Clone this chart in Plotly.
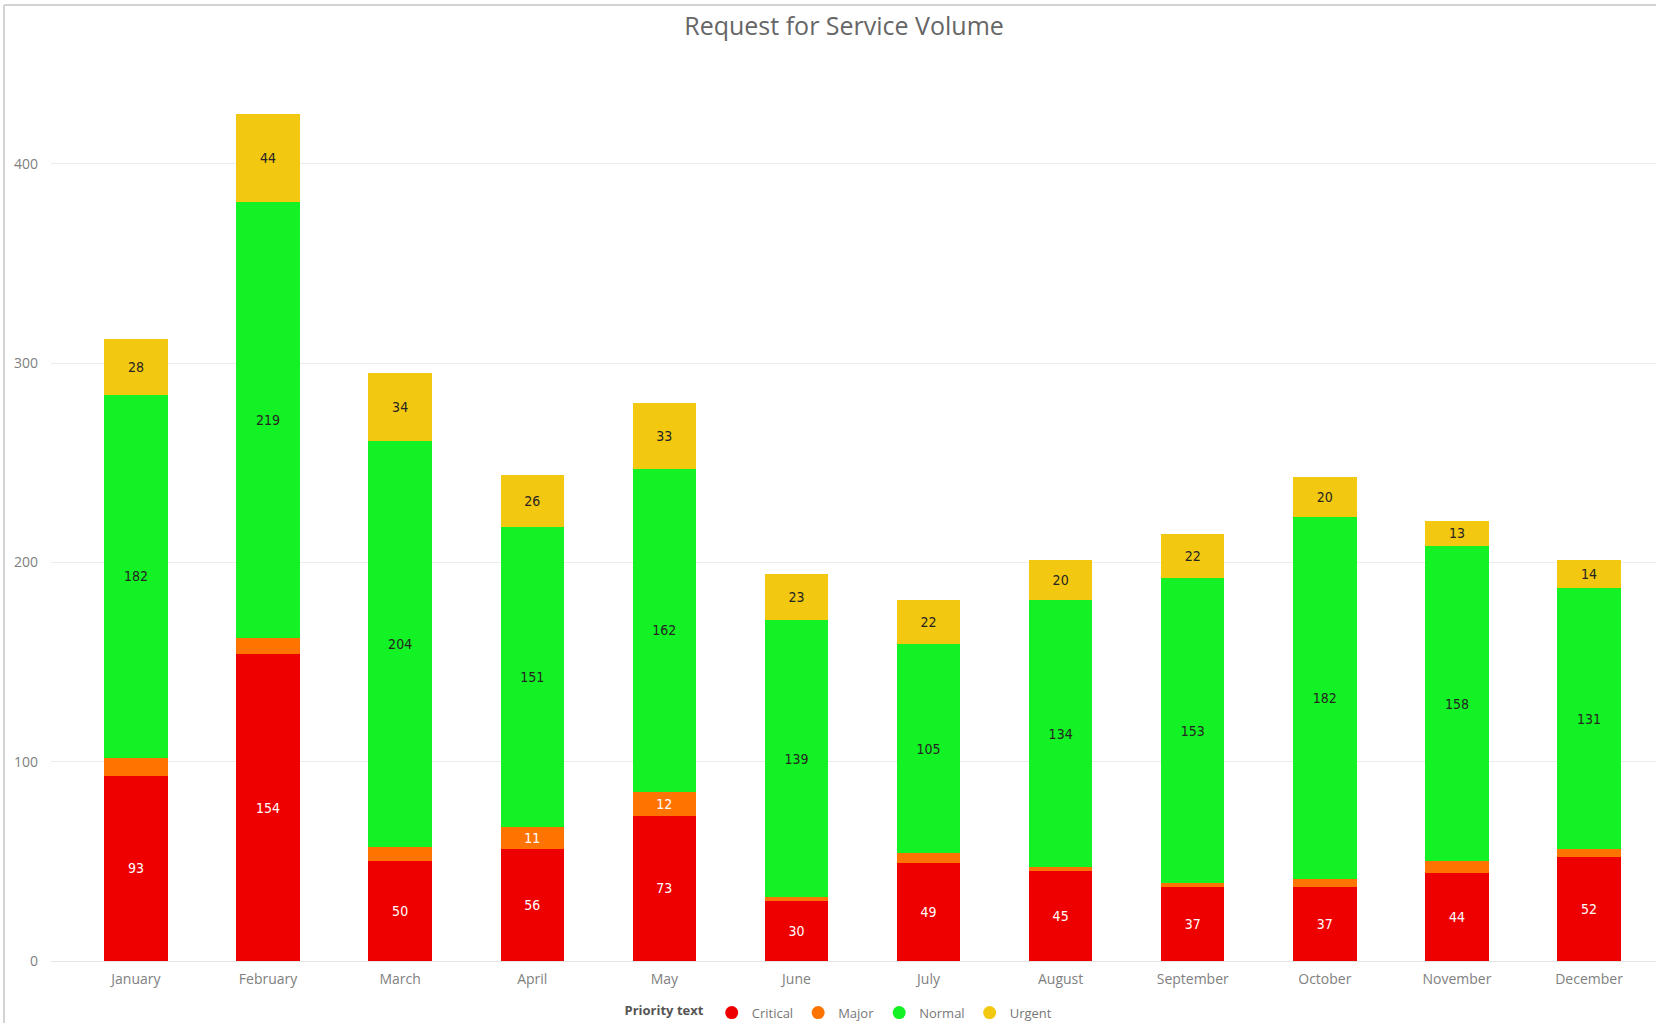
import plotly.graph_objects as go

# Monthly request-for-service counts, split by priority
months = ["January", "February", "March", "April", "May", "June",
          "July", "August", "September", "October", "November", "December"]
critical = [93, 154, 50, 56, 73, 30, 49, 45, 37, 37, 44, 52]
major = [9, 8, 7, 11, 12, 2, 5, 2, 2, 4, 6, 4]
normal = [182, 219, 204, 151, 162, 139, 105, 134, 153, 182, 158, 131]
urgent = [28, 44, 34, 26, 33, 23, 22, 20, 22, 20, 13, 14]

series = [
    ("Critical", critical, "#EE0000", "#FFFFFF"),
    ("Major", major, "#FF7300", "#FFFFFF"),
    ("Normal", normal, "#13F224", "#252423"),
    ("Urgent", urgent, "#F2C811", "#252423"),
]

LABEL_FONT = "Liberation Sans Narrow, DejaVu Sans Condensed, Roboto, sans-serif"
UI_FONT = "Open Sans, Noto Sans, sans-serif"

fig = go.Figure()

# Stacked bars; segments too short for a label stay unlabelled
for name, values, color, text_color in series:
    fig.add_trace(go.Bar(
        name=name,
        x=months,
        y=values,
        marker=dict(color=color, line=dict(width=0)),
        text=[str(v) if v >= 10 else "" for v in values],
        textposition="inside",
        insidetextanchor="middle",
        textangle=0,
        textfont=dict(family=LABEL_FONT, size=14, color=text_color),
        showlegend=False,
        hoverinfo="skip",
    ))

# Circle markers for the legend entries
for name, values, color, _ in series:
    fig.add_trace(go.Scatter(
        name=name,
        x=[None], y=[None],
        mode="markers",
        marker=dict(symbol="circle", size=13, color=color),
        showlegend=True,
        hoverinfo="skip",
    ))

# Frame lines along the top and left edge of the visual
frame = "#D3D3D3"
fig.add_shape(type="line", xref="paper", yref="paper",
              x0=-0.0293, x1=1.0, y0=1.1103, y1=1.1103,
              line=dict(color=frame, width=2), layer="below")
fig.add_shape(type="line", xref="paper", yref="paper",
              x0=-0.0293, x1=-0.0293, y0=1.1103, y1=-0.08,
              line=dict(color=frame, width=2), layer="below")

fig.update_layout(
    width=1656,
    height=1023,
    barmode="stack",
    bargap=0.52,
    paper_bgcolor="#FFFFFF",
    plot_bgcolor="#FFFFFF",
    margin=dict(l=51, r=0, t=100, b=62, pad=0, autoexpand=False),
    uniformtext=dict(minsize=14, mode="show"),
    title=dict(
        text="Request for Service Volume",
        font=dict(family=UI_FONT, size=25, color="#666666"),
        x=0.5097, xref="container", xanchor="center",
        y=0.9746, yref="container", yanchor="middle",
    ),
    xaxis=dict(
        range=[-0.643, 11.507],
        showgrid=False,
        showline=False,
        zeroline=False,
        ticks="",
        ticklabelstandoff=8,
        tickfont=dict(family=UI_FONT, size=14, color="#808080"),
    ),
    yaxis=dict(
        range=[0, 432],
        dtick=100,
        showgrid=True,
        gridcolor="#EBEBEB",
        gridwidth=1,
        zeroline=True,
        zerolinecolor="#E3E3E3",
        zerolinewidth=1,
        showline=False,
        ticks="",
        ticklabelstandoff=12,
        tickfont=dict(family=UI_FONT, size=14, color="#808080"),
    ),
    legend=dict(
        orientation="h",
        traceorder="normal",
        x=0.4916, xanchor="center",
        y=-0.060, yanchor="middle",
        title=dict(text="<b>Priority text</b>",
                   font=dict(family=UI_FONT, size=13, color="#555555")),
        font=dict(family=UI_FONT, size=13, color="#777777"),
        itemwidth=30,
        tracegroupgap=0,
        bgcolor="rgba(0,0,0,0)",
    ),
)

fig.write_html("out.html")
